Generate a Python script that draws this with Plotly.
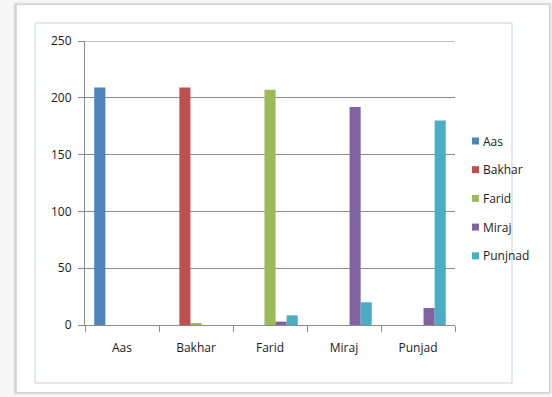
import plotly.graph_objects as go

categories = ["Aas", "Bakhar", "Farid", "Miraj", "Punjad"]
series_names = ["Aas", "Bakhar", "Farid", "Miraj", "Punjnad"]
aas = [209, 0, 0, 0, 0]
bakhar = [0, 209, 0, 0, 0]
farid = [0, 1.5, 207, 0, 0]
miraj = [0, 0, 3, 192, 15]
punjnad = [0, 0, 8.5, 20, 180]
colors = ["#4F81BD", "#C0504D", "#9BBB59", "#8064A2", "#4BACC6"]
y_ticks = [0, 50, 100, 150, 200, 250]

W, H = 552, 397
L, R, T, B = 85, 97, 41, 72
pw, ph = W - L - R, H - T - B

def px(x):
    return (x - L) / pw

def py(y):
    return (H - B - y) / ph

fig = go.Figure()
for name, vals, col in zip(series_names, [aas, bakhar, farid, miraj, punjnad], colors):
    fig.add_trace(go.Bar(x=categories, y=vals, name=name, marker_color=col,
                         marker_line_width=0, showlegend=False))

shapes = []
# outer shadow frame
for i, c in enumerate(["#e6e6e6", "#d2d2d2", "#bdbdbd"]):
    shapes.append(dict(type="rect", xref="paper", yref="paper",
                       x0=px(14 + i), x1=px(551 - i), y0=py(394 - i), y1=py(3 + i),
                       line=dict(color=c, width=1), fillcolor="rgba(0,0,0,0)", layer="below"))
shapes.append(dict(type="rect", xref="paper", yref="paper",
                   x0=px(17), x1=px(549), y0=py(392), y1=py(5),
                   line=dict(color="#ffffff", width=0), fillcolor="#ffffff", layer="below"))
# inner chart border
shapes.append(dict(type="rect", xref="paper", yref="paper",
                   x0=px(35), x1=px(512), y0=py(383), y1=py(23),
                   line=dict(color="#c9d3d3", width=1), fillcolor="rgba(0,0,0,0)", layer="below"))
# top gridline at max
shapes.append(dict(type="line", xref="paper", yref="y", x0=0, x1=1,
                   y0=y_ticks[-1], y1=y_ticks[-1], line=dict(color="#8c8c8c", width=1)))

# manual legend (small squares like Excel)
annotations = []
leg_y0, leg_dy = 141, 28.7
for i, (name, col) in enumerate(zip(series_names, colors)):
    yc = leg_y0 + i * leg_dy
    shapes.append(dict(type="rect", xref="paper", yref="paper",
                       x0=px(472), x1=px(479), y0=py(yc + 3.5), y1=py(yc - 3.5),
                       line=dict(width=0), fillcolor=col))
    annotations.append(dict(xref="paper", yref="paper", x=px(481), y=py(yc),
                            xanchor="left", yanchor="middle", text=name, showarrow=False,
                            font=dict(size=12, color="#1a1a1a")))

fig.update_layout(
    width=W, height=H,
    margin=dict(l=L, r=R, t=T, b=B),
    paper_bgcolor="#f7f7f7",
    plot_bgcolor="#ffffff",
    barmode="group",
    bargap=0.25,
    bargroupgap=0,
    font=dict(family="Open Sans, Liberation Sans, sans-serif", size=12, color="#1a1a1a"),
    shapes=shapes,
    annotations=annotations,
    showlegend=False,
    xaxis=dict(showline=True, linecolor="#8c8c8c", linewidth=1,
               ticks="outside", ticklen=6, tickcolor="#8c8c8c", tickson="boundaries",
               ticklabelstandoff=12,
               showgrid=False, tickfont=dict(size=12)),
    yaxis=dict(range=[0, 250], tickvals=y_ticks, showline=True, linecolor="#8c8c8c",
               linewidth=1, ticks="outside", ticklen=6, tickcolor="#8c8c8c",
               showgrid=True, gridcolor="#8c8c8c", gridwidth=1, zeroline=False,
               ticklabelstandoff=4, tickfont=dict(size=12)),
)

fig.write_html("out.html")
